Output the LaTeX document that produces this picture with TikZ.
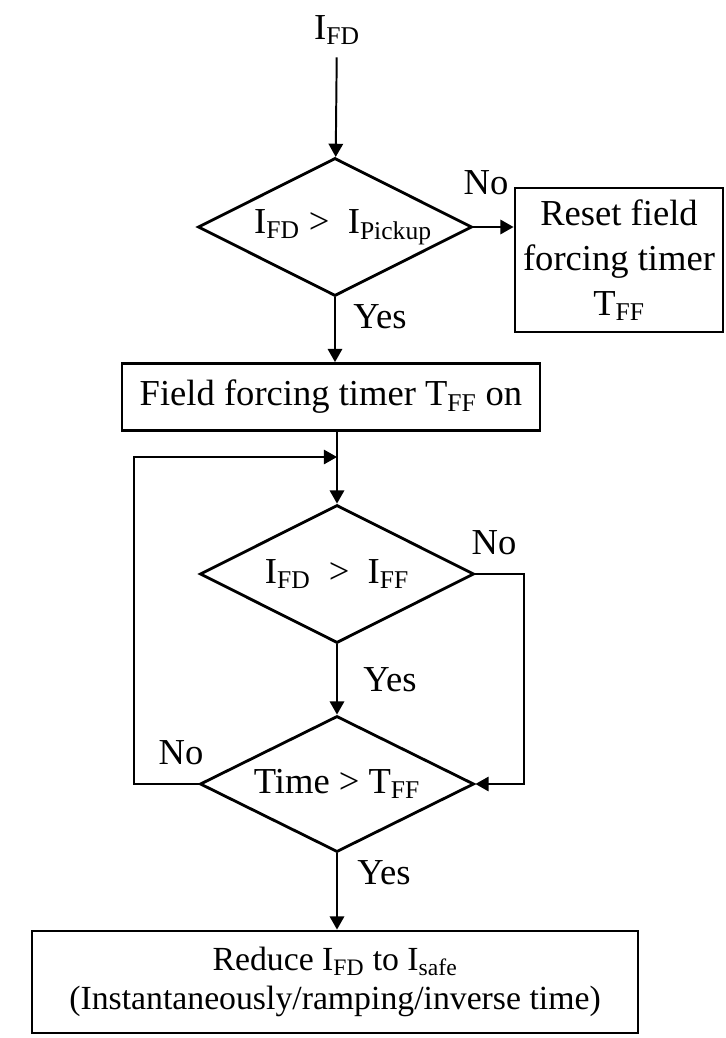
\documentclass[tikz,border=0pt]{standalone}
\usepackage{fontspec}
\setmainfont{Liberation Serif}
\usetikzlibrary{arrows.meta,positioning,shapes.geometric,calc}

\begin{document}
\begin{tikzpicture}[x=0.025cm,y=-0.025cm,
    font=\fontsize{26}{32}\selectfont,
    decision/.style={draw, diamond, line width=2pt, inner sep=0pt, aspect=2,
                     minimum width=6.85cm, minimum height=3.45cm},
    block/.style={draw, rectangle, line width=2pt, align=center, inner sep=0pt},
    arr/.style={-{Triangle[length=0.33cm,width=0.36cm]}, line width=1.4pt},
    lbl/.style={inner sep=0pt}
  ]
  \useasboundingbox (0,0) rectangle (725,1038);

  % shapes
  \node[lbl, minimum height=1.35cm] (ifd) at (337,30) {I\textsubscript{FD}};
  \node[decision] (d1) at (335,227) {\hspace{0.4cm}I\textsubscript{FD} >\ \ I\textsubscript{Pickup}};
  \node[block, minimum width=5.2cm, minimum height=3.6cm] (reset) at (619,260)
       {Reset field\\forcing timer\\T\textsubscript{FF}};
  \node[block, minimum width=10.45cm, minimum height=1.675cm] (field) at (331,397)
       {Field forcing timer T\textsubscript{FF} on};
  \node[decision] (d2) at (337,574) {I\textsubscript{FD}\ \ >\ \ I\textsubscript{FF}};
  \node[decision, minimum height=3.4cm] (d3) at (337,784) {Time > T\textsubscript{FF}};
  \node[block, minimum width=15.15cm, minimum height=2.55cm,
        font=\fontsize{24}{28}\selectfont] (final) at (335,982)
       {Reduce I\textsubscript{FD} to I\textsubscript{safe}\\(Instantaneously/ramping/inverse time)};
  \coordinate (join) at (337,457);

  % labels
  \node[lbl] (no1)  at (486,183) {No};
  \node[lbl] (yes1) at (380,317) {Yes};
  \node[lbl] (no2)  at (494,543) {No};
  \node[lbl] (yes2) at (390,680) {Yes};
  \node[lbl] (no3)  at (181,753) {No};
  \node[lbl] (yes3) at (384,873) {Yes};

  % connectors
  \draw[arr] (ifd) -- (d1);
  \draw[arr] (d1.east) -- (d1 -| reset.west);
  \draw[arr] (d1.south) -- (d1 |- field.north);
  \draw[arr] (field.south -| d2) -- (d2.north);
  \draw[arr] (d3.west) -- ++(-65,0) |- (join);
  \draw[arr] (d2.south) -- (d3.north);
  \draw[arr] (d2.east) -- ++(49,0) |- (d3.east);
  \draw[arr] (d3.south) -- (d3 |- final.north);
\end{tikzpicture}
\end{document}
